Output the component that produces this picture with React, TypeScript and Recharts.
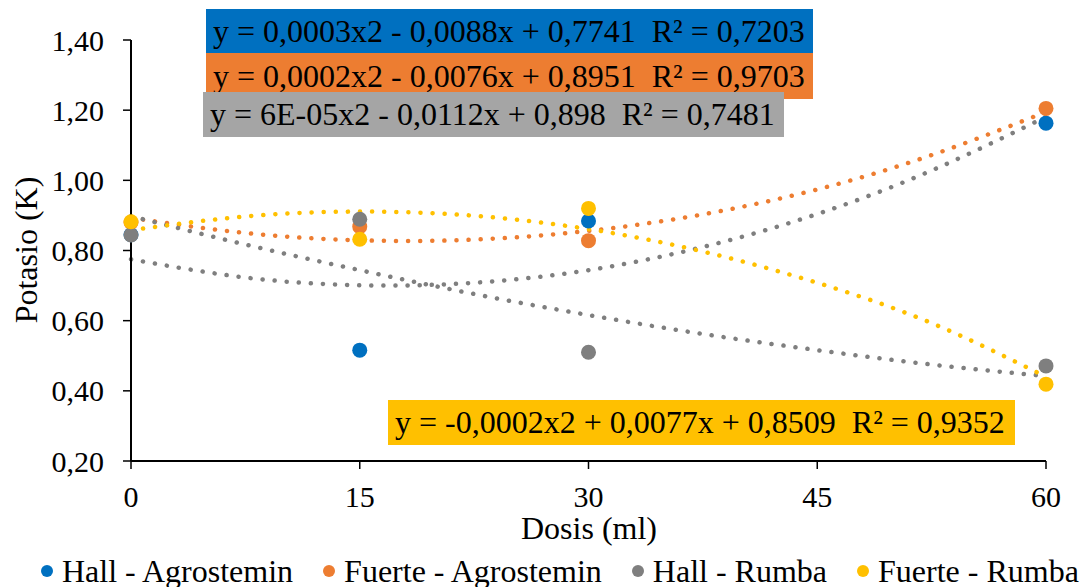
import React from "react";
import { ComposedChart, Scatter, Line, XAxis, YAxis, Label } from "recharts";

const FONT = "Times New Roman, Liberation Serif, DejaVu Serif, serif";

// measured doses (ml) and potassium values
const doses = [0, 15, 30, 60];
const hallAgrostemin = [0.845, 0.516, 0.884, 1.163];
const fuerteAgrostemin = [0.88, 0.868, 0.828, 1.205];
const hallRumba = [0.844, 0.889, 0.51, 0.471];
const fuerteRumba = [0.882, 0.832, 0.92, 0.419];

// polynomial trendlines
const trendDoses = [0, 7.5, 15, 22.5, 30, 37.5, 45, 52.5, 60];
const trendHallAgrostemin = [0.775, 0.723, 0.701, 0.708, 0.744, 0.81, 0.904, 1.028, 1.181];
const trendFuerteAgrostemin = [0.893, 0.85, 0.829, 0.831, 0.856, 0.903, 0.974, 1.072, 1.195];
const trendHallRumba = [0.898, 0.817, 0.744, 0.676, 0.616, 0.562, 0.516, 0.475, 0.442];
const trendFuerteRumba = [0.858, 0.897, 0.911, 0.899, 0.861, 0.797, 0.708, 0.593, 0.44];

const xTicks = [0, 15, 30, 45, 60];
const yTicks = [0.2, 0.4, 0.6, 0.8, 1.0, 1.2, 1.4];

const series = [
  { name: "Hall - Agrostemin", values: hallAgrostemin, trend: trendHallAgrostemin, color: "#0070C0", trendColor: "#7F7F7F" },
  { name: "Fuerte - Agrostemin", values: fuerteAgrostemin, trend: trendFuerteAgrostemin, color: "#ED7D31", trendColor: "#ED7D31" },
  { name: "Hall - Rumba", values: hallRumba, trend: trendHallRumba, color: "#7F7F7F", trendColor: "#7F7F7F" },
  { name: "Fuerte - Rumba", values: fuerteRumba, trend: trendFuerteRumba, color: "#FFC000", trendColor: "#FFC000" },
];

const equations = [
  { text: "y = 0,0003x2 - 0,0088x + 0,7741  R² = 0,7203", bg: "#0070C0", left: 206, top: 9, width: 607, height: 44 },
  { text: "y = 0,0002x2 - 0,0076x + 0,8951  R² = 0,9703", bg: "#ED7D31", left: 206, top: 53, width: 607, height: 46 },
  { text: "y = 6E-05x2 - 0,0112x + 0,898  R² = 0,7481", bg: "#A5A5A5", left: 203, top: 92, width: 581, height: 45 },
  { text: "y = -0,0002x2 + 0,0077x + 0,8509  R² = 0,9352", bg: "#FFC000", left: 388, top: 400, width: 627, height: 45 },
];

const fmt = (v: number) => Number(v).toFixed(2).replace(".", ",");

export default function App() {
  const tick = { fontSize: 30, fill: "#000", fontFamily: FONT };
  return (
    <div style={{ position: "absolute", left: 0, top: 0, width: 1084, height: 587, background: "#fff", fontFamily: FONT }}>
      <ComposedChart width={1084} height={587} margin={{ top: 40, right: 38, bottom: 0, left: 0 }} style={{ fontFamily: FONT }}>
        <XAxis
          dataKey="x"
          type="number"
          domain={[0, 60]}
          ticks={xTicks}
          height={126}
          tick={tick}
          tickSize={8}
          tickMargin={17}
          axisLine={{ stroke: "#000", strokeWidth: 2 }}
          tickLine={{ stroke: "#000", strokeWidth: 1.5 }}
        >
          <Label
            content={() => (
              <text x={589} y={528} textAnchor="middle" dominantBaseline="central" fontSize={32} fontFamily={FONT} fill="#000">
                Dosis (ml)
              </text>
            )}
          />
        </XAxis>
        <YAxis
          type="number"
          domain={[0.2, 1.4]}
          ticks={yTicks}
          width={131}
          tick={tick}
          tickSize={8}
          tickMargin={19}
          tickFormatter={fmt}
          axisLine={{ stroke: "#000", strokeWidth: 2 }}
          tickLine={{ stroke: "#000", strokeWidth: 1.5 }}
        >
          <Label
            content={() => (
              <text x={26} y={250} transform="rotate(-90 26 250)" textAnchor="middle" dominantBaseline="central" fontSize={32} fontFamily={FONT} fill="#000">
                Potasio (K)
              </text>
            )}
          />
        </YAxis>
        {series.map((s) => (
          <Scatter
            key={s.name}
            name={s.name}
            data={doses.map((x, i) => ({ x, y: s.values[i] }))}
            dataKey="y"
            fill={s.color}
            isAnimationActive={false}
            shape={(p: any) => <circle cx={p.cx} cy={p.cy} r={7.5} fill={s.color} />}
          />
        ))}
        {series.map((s) => (
          <Line
            key={"t" + s.name}
            data={trendDoses.map((x, i) => ({ x, y: s.trend[i] }))}
            dataKey="y"
            type="natural"
            stroke={s.trendColor}
            strokeWidth={4.5}
            strokeDasharray="0.1 12"
            strokeLinecap="round"
            dot={false}
            activeDot={false}
            legendType="none"
            isAnimationActive={false}
          />
        ))}
      </ComposedChart>

      {equations.map((e) => (
        <div
          key={e.text}
          style={{
            position: "absolute",
            left: e.left,
            top: e.top,
            width: e.width,
            height: e.height,
            lineHeight: e.height + "px",
            background: e.bg,
            color: "#000",
            fontSize: 32,
            paddingLeft: 7,
            boxSizing: "border-box",
            whiteSpace: "pre",
          }}
        >
          {e.text}
        </div>
      ))}

      <div style={{ position: "absolute", left: 41, top: 553, height: 36, display: "flex", alignItems: "center", gap: 30, fontSize: 32, whiteSpace: "pre" }}>
        {series.map((s) => (
          <div key={s.name} style={{ display: "flex", alignItems: "center" }}>
            <span style={{ width: 12, height: 12, borderRadius: 6, background: s.color, marginRight: 9, display: "inline-block" }} />
            <span style={{ lineHeight: "36px" }}>{s.name}</span>
          </div>
        ))}
      </div>
    </div>
  );
}
